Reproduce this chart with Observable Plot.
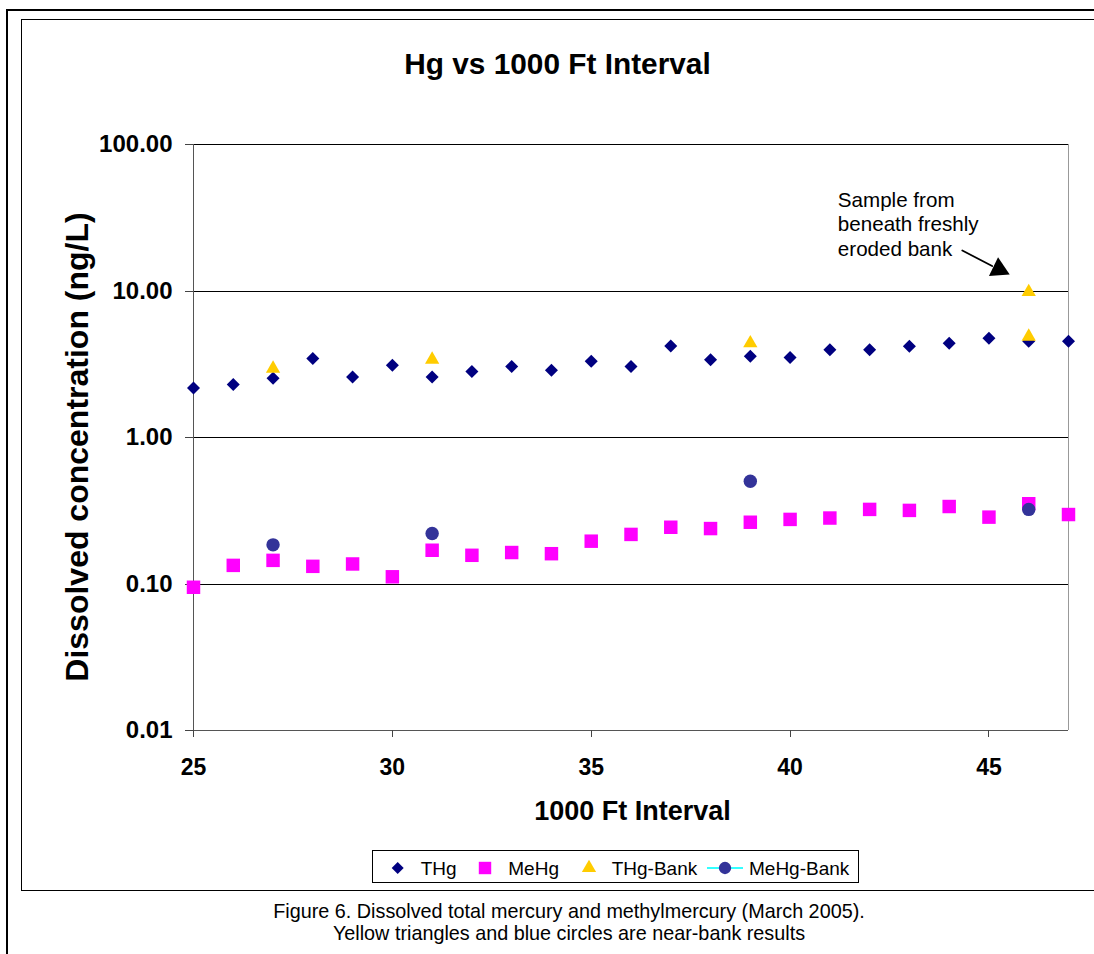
<!DOCTYPE html>
<html><head><meta charset="utf-8">
<script src="https://cdn.jsdelivr.net/npm/d3@7"></script>
<script src="https://cdn.jsdelivr.net/npm/@observablehq/plot@0.6"></script>
<style>
html,body{margin:0;padding:0;background:#fff;overflow:hidden;}
#fig{position:relative;width:1094px;height:954px;font-family:"Liberation Sans",Arial,sans-serif;color:#000;overflow:hidden;}
#fig > svg{position:absolute;left:0;top:0;}
.abs{position:absolute;}
</style></head><body><div id="fig"></div>
<script>
// ---------- data ----------
const intervals = [25,26,27,28,29,30,31,32,33,34,35,36,37,38,39,40,41,42,43,44,45,46,47];
const thg  = [2.18,2.30,2.54,3.46,2.59,3.11,2.59,2.82,3.05,2.88,3.32,3.05,4.22,3.39,3.59,3.51,3.97,3.97,4.20,4.40,4.76,4.54,4.54];
const mehg = [0.095,0.134,0.145,0.132,0.137,0.112,0.170,0.157,0.164,0.161,0.196,0.218,0.244,0.239,0.264,0.276,0.282,0.323,0.318,0.338,0.286,0.353,0.298];
const thgBankX = [27,31,39,46,46];
const thgBankY = [3.05,3.51,4.54,10.17,5.04];
const mehgBankX = [27,31,39,46];
const mehgBankY = [0.185,0.221,0.503,0.323];
const xTicks = [25,30,35,40,45];
const yTicks = [0.01,0.1,1,10,100];
const yGrid = [0.1,1,10,100];
const seriesNames = ["THg","MeHg","THg-Bank","MeHg-Bank"];
const seriesColors = ["#000080","#FF00FF","#FFCC00","#333399"];
const titleText = "Hg vs 1000 Ft Interval";
const xLabel = "1000 Ft Interval";
const yLabel = "Dissolved concentration (ng/L)";
const captionLines = ["Figure 6. Dissolved total mercury and methylmercury (March 2005).","Yellow triangles and blue circles are near-bank results"];
const noteLines = ["Sample from","beneath freshly","eroded bank"];
const noteAnchor = [{x:41.2, y:17.47}];
const arrowShaft = [{x:44.33, y:18.9},{x:45.08, y:14.81}];
const arrowHead = [{x:45.25, y:14.07}];

const FONT = '"Liberation Sans", Arial, sans-serif';
const thgRows = intervals.map((x,i)=>({x, y:thg[i]}));
const mehgRows = intervals.map((x,i)=>({x, y:mehg[i]}));
const thgBankRows = thgBankX.map((x,i)=>({x, y:thgBankY[i]}));
const mehgBankRows = mehgBankX.map((x,i)=>({x, y:mehgBankY[i]}));

const fig = document.getElementById("fig");

const plot = Plot.plot({
  width: 1094, height: 954,
  marginLeft: 193, marginRight: 26, marginTop: 144, marginBottom: 224,
  style: {fontFamily: FONT, background: "transparent", color: "#000", overflow: "visible"},
  x: {domain: [25,47]},
  y: {type: "log", domain: [0.01,100]},
  marks: [
    Plot.ruleX([47], {stroke:"#999", shapeRendering:"crispEdges"}),
    Plot.gridY(yGrid, {stroke:"#000", strokeOpacity:1, shapeRendering:"crispEdges"}),
    Plot.ruleX([25], {stroke:"#555", shapeRendering:"crispEdges"}),
    Plot.ruleY([0.01], {stroke:"#555", shapeRendering:"crispEdges"}),
    Plot.axisY(yTicks, {tickFormat: d=>d.toFixed(2), tickSize:8, tickPadding:13, fontSize:24, fontWeight:"bold", stroke:"#444", label:null, shapeRendering:"crispEdges"}),
    Plot.axisX(xTicks, {tickFormat: d=>String(d), tickSize:7, tickPadding:21, fontSize:23, fontWeight:"bold", stroke:"#444", label:null, shapeRendering:"crispEdges"}),
    Plot.text([xLabel], {text:d=>d, frameAnchor:"bottom", lineAnchor:"bottom", dx:1.5, dy:89, fontSize:27, fontWeight:"bold"}),
    Plot.text([yLabel], {text:d=>d, frameAnchor:"left", textAnchor:"middle", lineAnchor:"middle", rotate:-90, dx:-115.5, dy:9.5, fontSize:32, fontWeight:"bold"}),
    Plot.dot(thgRows, {x:"x", y:"y", symbol:"diamond2", r:5.86, fill:seriesColors[0]}),
    Plot.dot(mehgRows, {x:"x", y:"y", symbol:"square", r:7.6, fill:seriesColors[1]}),
    Plot.dot(thgBankRows, {x:"x", y:"y", symbol:"triangle", r:5.3, fill:seriesColors[2], dy:2}),
    Plot.dot(mehgBankRows, {x:"x", y:"y", symbol:"circle", r:6.7, fill:seriesColors[3]}),
    Plot.text(noteAnchor, {x:"x", y:"y", text:()=>noteLines.join("\n"), textAnchor:"start", lineAnchor:"bottom", lineHeight:1.18, fontSize:20.6}),
    Plot.line(arrowShaft, {x:"x", y:"y", stroke:"#000", strokeWidth:1.75}),
    Plot.dot(arrowHead, {x:"x", y:"y", symbol:"triangle", r:7.72, fill:"#000", rotate:115.9})
  ]
});
fig.appendChild(plot);

// borders
function box(css){ const d=document.createElement("div"); d.className="abs"; Object.assign(d.style, css); fig.appendChild(d); return d; }
box({left:"6px", top:"9px", width:"1200px", height:"1000px", borderTop:"2px solid #000", borderLeft:"2px solid #000", boxSizing:"border-box"});
box({left:"21px", top:"19px", width:"1200px", height:"872px", border:"1px solid #000", boxSizing:"border-box"});

// title
const t = box({left:"0px", top:"49px", width:"1115px", textAlign:"center", font:"bold 29.8px "+FONT, lineHeight:"1"});
t.textContent = titleText;

// caption
const c = box({left:"0px", top:"901px", width:"1138px", textAlign:"center", font:"19.8px "+FONT, lineHeight:"21.5px"});
c.innerHTML = captionLines.map(s=>"<div>"+s+"</div>").join("");

// legend
const lg = d3.create("svg").attr("width",487).attr("height",33)
  .style("position","absolute").style("left","372px").style("top","850px").style("overflow","visible");
lg.append("rect").attr("x",0.5).attr("y",0.5).attr("width",486).attr("height",32).attr("fill","none").attr("stroke","#000");
const cy = 18;
const legItems = [
  {sym:d3.symbolDiamond2, size:(5.86*5.86*Math.PI)*0.85, cx:25.7, tx:48.7},
  {sym:d3.symbolSquare, size:(7.6*7.6*Math.PI)*0.85, cx:113, tx:136.3},
  {sym:d3.symbolTriangle, size:(5.3*5.3*Math.PI), cx:217, tx:239.7},
  {sym:d3.symbolCircle, size:(6.7*6.7*Math.PI)*0.85, cx:353, tx:377}
];
lg.append("line").attr("x1",335).attr("x2",371).attr("y1",cy).attr("y2",cy).attr("stroke","#33FFFF").attr("stroke-width",2);
legItems.forEach((it,i)=>{
  lg.append("path").attr("d", d3.symbol(it.sym, it.size)()).attr("transform",`translate(${it.cx},${cy})`).attr("fill",seriesColors[i]);
  lg.append("text").attr("x",it.tx).attr("y",24.5).attr("font-family",FONT).attr("font-size",19).attr("fill","#000").text(seriesNames[i]);
});
fig.appendChild(lg.node());
</script></body></html>
